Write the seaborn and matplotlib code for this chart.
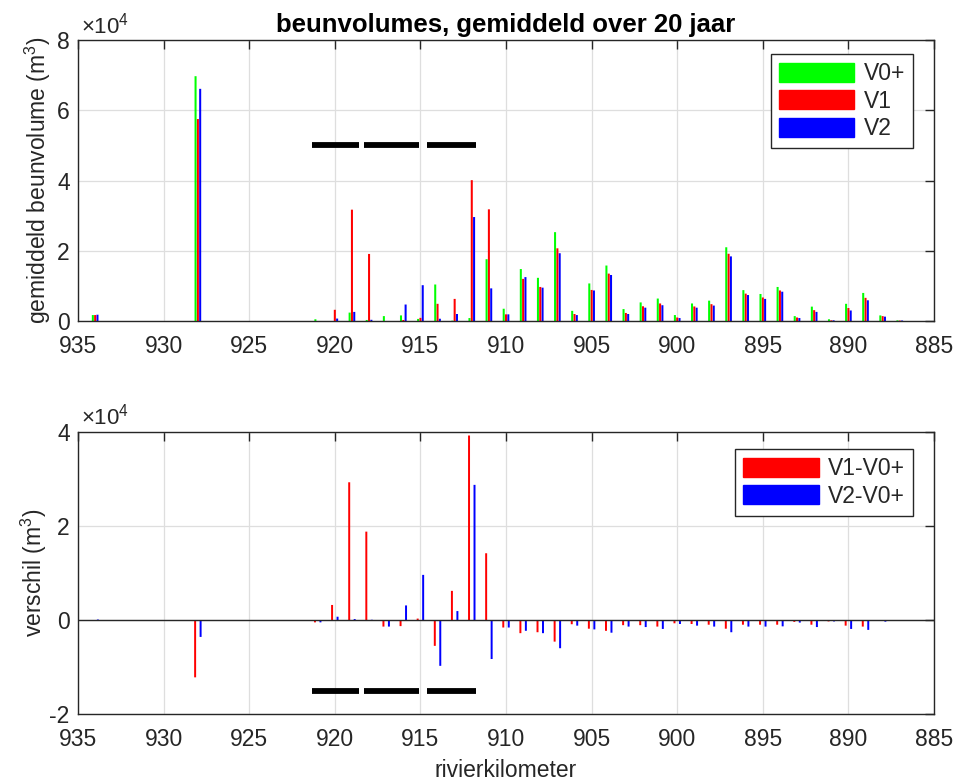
import numpy as np
import pandas as pd
import matplotlib
matplotlib.use('Agg')
import matplotlib.pyplot as plt
from matplotlib.patches import Patch
import seaborn as sns

# rivierkilometers met beunvolumes
km = [934, 928, 921, 920, 919, 918, 917, 916, 915, 914, 913, 912, 911, 910,
      909, 908, 907, 906, 905, 904, 903, 902, 901, 900, 899, 898, 897, 896,
      895, 894, 893, 892, 891, 890, 889, 888, 887]

v0 = [1700, 69700, 500, 0, 2400, 300, 1400, 1600, 600, 10400, 100, 850, 17600, 3500,
      14800, 12300, 25300, 2900, 10700, 15800, 3400, 5300, 6400, 1700, 5000, 5800, 21000, 8800,
      7700, 9700, 1400, 4100, 500, 4900, 8000, 1600, 200]
v1 = [1700, 57500, 0, 3200, 31700, 19100, 0, 300, 900, 4900, 6300, 40100, 31800, 1900,
      12000, 9700, 20700, 2000, 8850, 13500, 2300, 4200, 5000, 1000, 4150, 4800, 19150, 7800,
      6700, 8700, 1000, 3100, 200, 3700, 6600, 1400, 150]
v2 = [1800, 66100, 0, 700, 2600, 350, 0, 4700, 10200, 650, 2000, 29600, 9300, 1900,
      12500, 9500, 19300, 1700, 8700, 13100, 2000, 3800, 4500, 850, 3800, 4400, 18400, 7400,
      6300, 8350, 850, 2600, 200, 3000, 5900, 1250, 150]

series = ['V0+', 'V1', 'V2']
diff_series = ['V1-V0+', 'V2-V0+']

# trajecten (zwarte balken)
seg_start = [921.33, 918.27, 914.61]
seg_end = [918.57, 915.06, 911.78]
seg_y_top = 5.0e4
seg_y_bottom = -1.5e4

xticks = [935, 930, 925, 920, 915, 910, 905, 900, 895, 890, 885]
yticks_top = [0, 2e4, 4e4, 6e4, 8e4]
yticks_bottom = [-2e4, 0, 2e4, 4e4]

pal = {'V0+': '#00ff00', 'V1': '#ff0000', 'V2': '#0000ff',
       'V1-V0+': '#ff0000', 'V2-V0+': '#0000ff'}

top_df = pd.DataFrame({
    'km': km * 3,
    'serie': np.repeat(series, len(km)),
    'volume': v0 + v1 + v2,
})
d1 = list(np.array(v1) - np.array(v0))
d2 = list(np.array(v2) - np.array(v0))
bot_df = pd.DataFrame({
    'km': km * 2,
    'serie': np.repeat(diff_series, len(km)),
    'verschil': d1 + d2,
})

sns.set_style('whitegrid')
plt.rcParams['font.family'] = ['Liberation Sans', 'DejaVu Sans']
plt.rcParams['mathtext.fontset'] = 'custom'
plt.rcParams['mathtext.rm'] = 'Liberation Sans'
plt.rcParams['mathtext.default'] = 'regular'
dark = '#262626'
fs = 16.5

fig = plt.figure(figsize=(9.61, 7.83), dpi=100)
ax1 = fig.add_axes([0.0812, 0.590, 0.8907, 0.3589])
ax2 = fig.add_axes([0.0812, 0.0881, 0.8907, 0.3602])

# x-as loopt van hoog naar laag, dus hue-volgorde omgekeerd voor links->rechts
sns.barplot(data=top_df, x='km', y='volume', hue='serie', hue_order=series[::-1],
            palette=pal, native_scale=True, width=0.405, gap=0.12,
            errorbar=None, legend=False, linewidth=0, edgecolor='none',
            saturation=1, orient='x', snap=False, ax=ax1)
sns.barplot(data=bot_df, x='km', y='verschil', hue='serie', hue_order=diff_series[::-1],
            palette=pal, native_scale=True, width=0.64, gap=0.64,
            errorbar=None, legend=False, linewidth=0, edgecolor='none',
            saturation=1, orient='x', snap=False, ax=ax2)

ax2.axhline(0, color=dark, lw=1.0, zorder=3)

for s, e in zip(seg_start, seg_end):
    ax1.plot([s, e], [seg_y_top, seg_y_top], color='k', lw=4.2, solid_capstyle='butt')
    ax2.plot([s, e], [seg_y_bottom, seg_y_bottom], color='k', lw=4.2, solid_capstyle='butt')

for ax in (ax1, ax2):
    ax.set_xlim(935, 885)
    ax.set_xticks(xticks)
    ax.set_xticklabels([str(t) for t in xticks])
    ax.grid(True, color='#dedede', lw=0.9)
    ax.set_axisbelow(True)
    ax.tick_params(direction='in', length=6.5, width=1, top=True, right=True,
                   color=dark, labelcolor=dark, labelsize=fs)
    ax.tick_params(axis='x', pad=10)
    ax.tick_params(axis='y', pad=6)
    for sp in ax.spines.values():
        sp.set_visible(True)
        sp.set_color(dark)
        sp.set_linewidth(1.0)

ax1.set_ylim(0, 8e4)
ax1.set_yticks(yticks_top)
ax1.set_yticklabels([f'{t / 1e4:g}' for t in yticks_top])
ax2.set_ylim(-2e4, 4e4)
ax2.set_yticks(yticks_bottom)
ax2.set_yticklabels([f'{t / 1e4:g}' for t in yticks_bottom])

ax1.set_xlabel('')
ax1.set_ylabel('gemiddeld beunvolume (m$^3$)', fontsize=fs, color=dark, labelpad=3)
ax2.set_xlabel('rivierkilometer', fontsize=fs, color=dark, labelpad=6)
ax2.set_ylabel('verschil (m$^3$)', fontsize=fs, color=dark, labelpad=0)
ax1.set_title('beunvolumes, gemiddeld over 20 jaar', fontsize=18.5, fontweight='bold',
              color='k', pad=5.5)

ax1.text(0.003, 1 + 7 / 281, '×10$^4$', transform=ax1.transAxes, ha='left',
         va='baseline', fontsize=16, color=dark)
ax2.text(0.003, 1 + 7 / 282, '×10$^4$', transform=ax2.transAxes, ha='left',
         va='baseline', fontsize=16, color=dark)

leg_kw = dict(loc='upper right', fontsize=fs, frameon=True, fancybox=False,
              framealpha=1, edgecolor=dark, handlelength=3.3, handleheight=0.9,
              handletextpad=0.4, labelspacing=0.2, borderpad=0.35, borderaxespad=0)
h1 = [Patch(facecolor=pal[s], edgecolor=pal[s]) for s in series]
l1 = ax1.legend(h1, series, bbox_to_anchor=(0.9755, 0.950), **leg_kw)
h2 = [Patch(facecolor=pal[s], edgecolor=pal[s]) for s in diff_series]
l2 = ax2.legend(h2, diff_series, bbox_to_anchor=(0.9755, 0.940), **leg_kw)
for lg in (l1, l2):
    lg.get_frame().set_linewidth(1.0)

fig.savefig('out.png', dpi=100)
